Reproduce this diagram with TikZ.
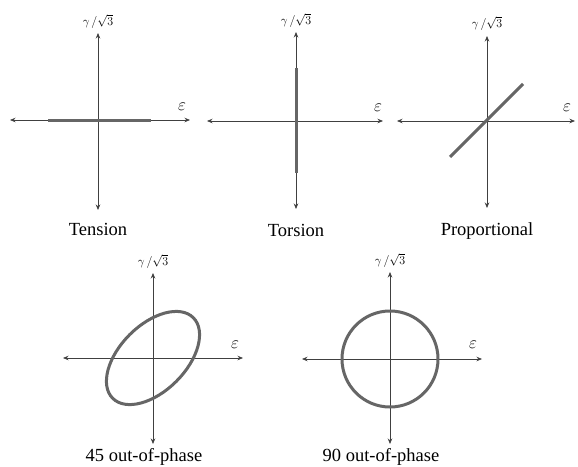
\documentclass[tikz,border=0pt]{standalone}
\usepackage{fontspec}
\setmainfont{Liberation Serif}
\usetikzlibrary{arrows.meta}
\begin{document}
\begin{tikzpicture}[x=1pt,y=-1pt,
  axis/.style={draw=black!75,line width=0.7pt,{Stealth[length=5.5pt,width=4.5pt]}-{Stealth[length=5.5pt,width=4.5pt]}},
  curve/.style={draw=black!60,line width=3pt},
  ylab/.style={font=\fontsize{12}{13}\selectfont,anchor=south,inner sep=1pt},
  xlab/.style={font=\fontsize{17}{18}\selectfont,inner sep=0pt},
  captxt/.style={font=\fontsize{18.5}{20}\selectfont,anchor=base,inner sep=0pt}]
\useasboundingbox (0,0) rectangle (578,466);
\fill[white] (0,0) rectangle (578,466);
% Panel 1: Tension
\coordinate (o1) at (98,120);
\coordinate (l1) at (10,120); \coordinate (r1) at (190,120);
\coordinate (t1) at (98,33); \coordinate (b1) at (98,210);
\draw[axis] (l1) -- (r1);
\draw[axis] (b1) -- (t1);
\coordinate (c1a) at (48,120); \coordinate (c1b) at (151,120);
\draw[curve] (c1a) -- (c1b);
\node[ylab] (g1) at (98,30) {$\gamma\,/\sqrt{3}$};
\node[xlab] (e1) at (182,107) {$\varepsilon$};
\node[captxt] (n1) at (98,235) {Tension};
% Panel 2: Torsion
\coordinate (o2) at (296,121);
\coordinate (l2) at (207,121); \coordinate (r2) at (383,121);
\coordinate (t2) at (296,32); \coordinate (b2) at (296,209);
\draw[axis] (l2) -- (r2);
\draw[axis] (b2) -- (t2);
\coordinate (c2a) at (296,68); \coordinate (c2b) at (296,173);
\draw[curve] (c2a) -- (c2b);
\node[ylab] (g2) at (296,29) {$\gamma\,/\sqrt{3}$};
\node[xlab] (e2) at (378,108) {$\varepsilon$};
\node[captxt] (n2) at (296,236) {Torsion};
% Panel 3: Proportional
\coordinate (o3) at (487,121);
\coordinate (l3) at (397,121); \coordinate (r3) at (575,121);
\coordinate (t3) at (487,36); \coordinate (b3) at (487,208);
\draw[axis] (l3) -- (r3);
\draw[axis] (b3) -- (t3);
\coordinate (c3a) at (450,157); \coordinate (c3b) at (523,84);
\draw[curve] (c3a) -- (c3b);
\node[ylab] (g3) at (487,32) {$\gamma\,/\sqrt{3}$};
\node[xlab] (e3) at (567,108) {$\varepsilon$};
\node[captxt] (n3) at (487,235) {Proportional};
% Panel 4: 45 out-of-phase
\coordinate (o4) at (153,358);
\coordinate (l4) at (63,358); \coordinate (r4) at (243,358);
\coordinate (t4) at (153,273); \coordinate (b4) at (153,444);
\draw[axis] (l4) -- (r4);
\draw[axis] (b4) -- (t4);
\draw[curve] (o4) ellipse[x radius=57,y radius=33,rotate=45];
\node[ylab] (g4) at (153,270) {$\gamma\,/\sqrt{3}$};
\node[xlab] (e4) at (235,345) {$\varepsilon$};
\node[captxt] (n4) at (144,461) {45 out-of-phase};
% Panel 5: 90 out-of-phase
\coordinate (o5) at (390,359);
\coordinate (l5) at (302,359); \coordinate (r5) at (482,359);
\coordinate (t5) at (390,272); \coordinate (b5) at (390,444);
\draw[axis] (l5) -- (r5);
\draw[axis] (b5) -- (t5);
\draw[curve] (o5) circle[radius=48];
\node[ylab] (g5) at (390,269) {$\gamma\,/\sqrt{3}$};
\node[xlab] (e5) at (473,345) {$\varepsilon$};
\node[captxt] (n5) at (381,461) {90 out-of-phase};
\end{tikzpicture}
\end{document}
